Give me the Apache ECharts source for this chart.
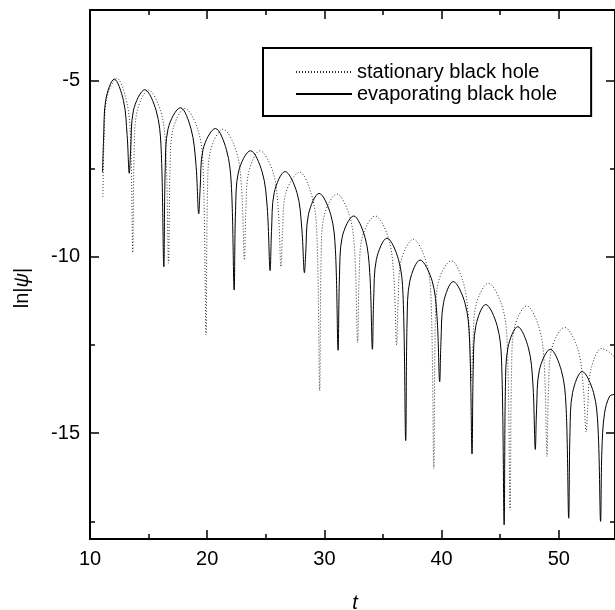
<!DOCTYPE html>
<html>
<head>
<meta charset="utf-8">
<script src="https://cdn.jsdelivr.net/npm/echarts@6/dist/echarts.min.js"></script>
<style>html,body{margin:0;padding:0;background:#fff}#c{width:615px;height:610px}</style>
</head>
<body>
<div id="c"></div>
<script>
// ---- data ----
var seriesNames = ['stationary black hole', 'evaporating black hole'];
var xTicks = [10, 20, 30, 40, 50];
var xMinorTicks = [15, 25, 35, 45];
var yTicks = [-15, -10, -5];
var yMinorTicks = [-17.5, -12.5, -7.5];

var tStat = [11.1, 11.2, 11.41, 12.3, 13.09, 13.45, 13.65,
 13.77, 14.02, 15.0, 16.03, 16.46, 16.7,
 16.83, 17.08, 18.1, 19.2, 19.64, 19.9,
 20.03, 20.29, 21.35, 22.46, 22.92, 23.18,
 23.3, 23.55, 24.5, 25.61, 26.05, 26.3,
 26.43, 26.7, 27.9, 28.87, 29.34, 29.6,
 29.73, 29.99, 31.07, 32.13, 32.58, 32.84,
 32.97, 33.24, 34.34, 35.44, 35.9, 36.17,
 36.3, 36.55, 37.6, 38.64, 39.09, 39.34,
 39.47, 39.73, 40.84, 41.84, 42.29, 42.55,
 42.68, 42.95, 44.0, 45.12, 45.59, 45.85,
 45.98, 46.23, 47.27, 48.31, 48.75, 49.0,
 49.13, 49.4, 50.5, 51.61, 52.07, 52.34,
 52.47, 52.74, 53.66, 54.3, 54.8];
var lnStat = [-8.3, -6.64, -5.54, -4.94, -5.54, -6.54, -9.88,
 -6.97, -5.87, -5.27, -5.87, -6.87, -10.18,
 -7.49, -6.39, -5.79, -6.39, -7.39, -12.21,
 -8.08, -6.98, -6.38, -6.98, -7.98, -10.09,
 -8.69, -7.59, -6.99, -7.59, -8.59, -10.28,
 -9.3, -8.2, -7.6, -8.2, -9.2, -13.79,
 -9.92, -8.82, -8.22, -8.82, -9.82, -12.43,
 -10.54, -9.44, -8.84, -9.44, -10.44, -12.5,
 -11.2, -10.1, -9.5, -10.1, -11.1, -16.0,
 -11.81, -10.71, -10.11, -10.71, -11.71, -13.5,
 -12.45, -11.35, -10.75, -11.35, -12.35, -17.18,
 -13.09, -11.99, -11.39, -11.99, -12.99, -15.66,
 -13.7, -12.6, -12.0, -12.6, -13.6, -14.96,
 -14.3, -13.2, -12.6, -12.7, -12.85];

var tEvap = [11.07, 11.16, 11.34, 12.07, 12.85, 13.17, 13.35,
 13.47, 13.70, 14.68, 15.65, 16.06, 16.3,
 16.42, 16.66, 17.72, 18.62, 19.04, 19.28,
 19.40, 19.64, 20.7, 21.64, 22.06, 22.3,
 22.42, 22.67, 23.7, 24.69, 25.12, 25.37,
 25.49, 25.72, 26.65, 27.66, 28.07, 28.3,
 28.41, 28.64, 29.55, 30.54, 30.94, 31.17,
 31.29, 31.52, 32.5, 33.46, 33.87, 34.1,
 34.21, 34.44, 35.34, 36.32, 36.71, 36.94,
 37.06, 37.29, 38.17, 39.2, 39.61, 39.84,
 39.95, 40.17, 41.0, 41.99, 42.38, 42.6,
 42.71, 42.93, 43.77, 44.74, 45.12, 45.34,
 45.45, 45.66, 46.5, 47.41, 47.79, 48.0,
 48.11, 48.34, 49.28, 50.22, 50.62, 50.85,
 50.96, 51.18, 52.0, 52.97, 53.35, 53.57,
 53.68, 53.9, 54.35, 54.8];
var lnEvap = [-7.6, -6.66, -5.56, -4.96, -5.56, -6.56, -7.63,
 -6.96, -5.86, -5.26, -5.86, -6.86, -10.28,
 -7.47, -6.37, -5.77, -6.37, -7.37, -8.78,
 -8.06, -6.96, -6.36, -6.96, -7.96, -10.94,
 -8.69, -7.59, -6.99, -7.59, -8.59, -10.39,
 -9.28, -8.18, -7.58, -8.18, -9.18, -10.45,
 -9.9, -8.8, -8.2, -8.8, -9.8, -12.65,
 -10.54, -9.44, -8.84, -9.44, -10.44, -12.62,
 -11.17, -10.07, -9.47, -10.07, -11.07, -15.21,
 -11.79, -10.69, -10.09, -10.69, -11.69, -13.54,
 -12.4, -11.3, -10.7, -11.3, -12.3, -15.59,
 -13.05, -11.95, -11.35, -11.95, -12.95, -17.6,
 -13.68, -12.58, -11.98, -12.58, -13.58, -15.46,
 -14.32, -13.22, -12.62, -13.22, -14.22, -17.41,
 -14.95, -13.85, -13.25, -13.85, -14.85, -17.5,
 -15.5, -14.45, -13.95, -13.9];

function zip(a, b) { return a.map(function (v, i) { return [v, b[i]]; }); }

var FONT = '"Liberation Sans", Arial, sans-serif';
var chart = echarts.init(document.getElementById('c'), null, {renderer: 'canvas'});

function xAx(pos, minor, showLabel) {
  return {
    type: 'value', position: pos, min: 10, max: 54.8,
    axisLine: {show: !minor, onZero: false, lineStyle: {color: '#000', width: 2}},
    axisTick: {show: true, inside: true, length: minor ? 5 : 9,
      customValues: minor ? xMinorTicks : xTicks, lineStyle: {color: '#000', width: 1.5}},
    axisLabel: {show: showLabel, margin: 10, color: '#000', fontSize: 20, fontFamily: FONT,
      customValues: xTicks},
    splitLine: {show: false}
  };
}
function yAx(pos, minor, showLabel) {
  return {
    type: 'value', position: pos, min: -18, max: -3,
    axisLine: {show: !minor, onZero: false, lineStyle: {color: '#000', width: 2}},
    axisTick: {show: true, inside: true, length: minor ? 5 : 9,
      customValues: minor ? yMinorTicks : yTicks, lineStyle: {color: '#000', width: 1.5}},
    axisLabel: {show: showLabel, margin: 10, color: '#000', fontSize: 20, fontFamily: FONT,
      customValues: yTicks},
    splitLine: {show: false}
  };
}

chart.setOption({
  animation: false,
  backgroundColor: '#fff',
  grid: {left: 90, right: -2, top: 10, bottom: 71, containLabel: false},
  xAxis: [xAx('bottom', false, true), xAx('bottom', true, false), xAx('top', false, false), xAx('top', true, false)],
  yAxis: [yAx('left', false, true), yAx('left', true, false), yAx('right', false, false), yAx('right', true, false)],
  legend: {
    data: seriesNames,
    orient: 'vertical', left: 263, top: 48,
    itemWidth: 56, itemHeight: 14, itemGap: 2,
    padding: [14, 34, 12, 32], borderColor: '#000', borderWidth: 2, backgroundColor: '#fff',
    selectedMode: false,
    itemStyle: {opacity: 0},
    textStyle: {fontSize: 20, fontFamily: FONT, color: '#000', lineHeight: 20}
  },
  graphic: [
    {type: 'text', x: 22, y: 288, rotation: Math.PI / 2,
      style: {text: '{n|ln|}{i|ψ}{n||}', textAlign: 'center', textVerticalAlign: 'middle',
        rich: {n: {fontSize: 20, fontFamily: FONT, fill: '#000'},
               i: {fontSize: 20, fontFamily: FONT, fontStyle: 'italic', fill: '#000'}}}},
    {type: 'text', x: 355, y: 603,
      style: {text: 't', textAlign: 'center', textVerticalAlign: 'middle',
        fontSize: 20, fontFamily: FONT, fontStyle: 'italic', fill: '#000'}}
  ],
  series: [
    {name: seriesNames[0], type: 'line', data: zip(tStat, lnStat), symbol: 'none', smooth: 0.35,
      itemStyle: {color: '#333'},
      lineStyle: {color: '#333', width: 1, type: [1, 2]}, z: 2},
    {name: seriesNames[1], type: 'line', data: zip(tEvap, lnEvap), symbol: 'none', smooth: 0.35,
      itemStyle: {color: '#000'},
      lineStyle: {color: '#000', width: 1, type: 'solid'}, z: 3}
  ]
});
</script>
</body>
</html>
